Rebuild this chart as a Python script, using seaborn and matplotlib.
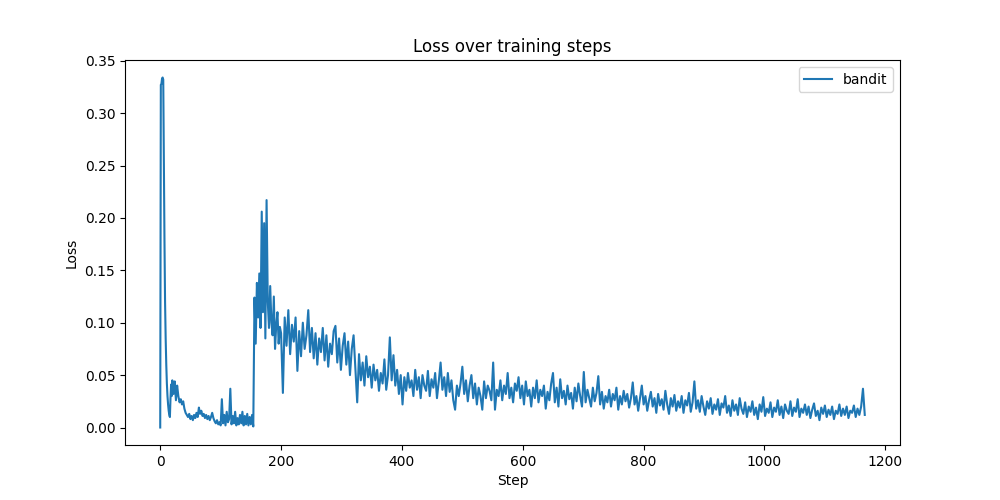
import numpy as np
import pandas as pd
import matplotlib
matplotlib.use("Agg")
import matplotlib.pyplot as plt
import seaborn as sns

# Loss values.
# warm-up spike: steps 0..20, every step
steps_warmup = np.arange(0, 21)
loss_warmup = [
    0.000, 0.327, 0.328, 0.333, 0.334, 0.332, 0.250, 0.180, 0.120, 0.085,
    0.060, 0.042, 0.030, 0.022, 0.016, 0.012, 0.010, 0.028, 0.041, 0.030,
    0.045,
]

# early phase: steps 22..198, every 2 steps
steps_early = np.arange(22, 199, 2)
loss_early = [
    0.032, 0.044, 0.026, 0.040, 0.030, 0.024, 0.027, 0.022, 0.025, 0.018,
    0.014, 0.012, 0.010, 0.013, 0.008, 0.011, 0.007, 0.012, 0.009, 0.014,
    0.010, 0.019, 0.013, 0.016, 0.011, 0.013, 0.009, 0.012, 0.008, 0.011,
    0.007, 0.010, 0.014, 0.009, 0.006, 0.004, 0.007, 0.003, 0.005, 0.002,
    0.027, 0.004, 0.012, 0.002, 0.015, 0.005, 0.008, 0.037, 0.003, 0.011,
    0.004, 0.015, 0.002, 0.009, 0.003, 0.012, 0.004, 0.015, 0.002, 0.011,
    0.003, 0.013, 0.002, 0.010, 0.003, 0.012, 0.001,
    0.124, 0.080, 0.138, 0.105, 0.147, 0.095, 0.206, 0.110, 0.195, 0.085,
    0.217, 0.120, 0.095, 0.135, 0.100, 0.088, 0.125, 0.075, 0.098, 0.110,
    0.080, 0.096,
]

# main phase: steps 200..1166, every 3 steps
steps_main = np.arange(200, 1167, 3)
loss_main = [
    0.090, 0.033, 0.105, 0.078, 0.112, 0.070, 0.098, 0.082, 0.105, 0.054,
    0.092, 0.068, 0.100, 0.075, 0.088, 0.112, 0.072, 0.095, 0.066, 0.090,
    0.060, 0.085, 0.072, 0.095, 0.064, 0.088, 0.058, 0.080, 0.070, 0.092,
    0.097, 0.062, 0.085, 0.055, 0.078, 0.090, 0.060, 0.082, 0.050, 0.075,
    0.088, 0.055, 0.024, 0.070, 0.045, 0.062, 0.040, 0.068, 0.048, 0.058,
    0.038, 0.060, 0.045, 0.055, 0.035, 0.052, 0.042, 0.065, 0.036, 0.050,
    0.086, 0.045, 0.069, 0.040, 0.055, 0.032, 0.050, 0.022, 0.048, 0.035,
    0.052, 0.038, 0.045, 0.030, 0.055, 0.036, 0.048, 0.028, 0.050, 0.040,
    0.035, 0.054, 0.030, 0.046, 0.038, 0.052, 0.028, 0.044, 0.062, 0.036,
    0.048, 0.030, 0.052, 0.034, 0.045, 0.026, 0.017, 0.040, 0.030, 0.042,
    0.058, 0.032, 0.045, 0.025, 0.040, 0.050, 0.028, 0.042, 0.022, 0.038,
    0.030, 0.017, 0.044, 0.028, 0.040, 0.035, 0.026, 0.062, 0.017, 0.036,
    0.030, 0.045, 0.026, 0.040, 0.032, 0.052, 0.028, 0.038, 0.024, 0.042,
    0.035, 0.048, 0.028, 0.040, 0.022, 0.044, 0.030, 0.036, 0.020, 0.038,
    0.028, 0.045, 0.024, 0.036, 0.030, 0.040, 0.018, 0.034, 0.026, 0.042,
    0.052, 0.024, 0.038, 0.020, 0.046, 0.028, 0.035, 0.022, 0.040, 0.027,
    0.033, 0.018, 0.038, 0.025, 0.042, 0.030, 0.020, 0.053, 0.024, 0.036,
    0.028, 0.020, 0.038, 0.025, 0.033, 0.049, 0.022, 0.034, 0.018, 0.030,
    0.024, 0.036, 0.020, 0.032, 0.026, 0.038, 0.017, 0.030, 0.022, 0.035,
    0.025, 0.032, 0.019, 0.028, 0.043, 0.022, 0.030, 0.016, 0.028, 0.040,
    0.022, 0.030, 0.016, 0.026, 0.034, 0.020, 0.028, 0.014, 0.032, 0.021,
    0.027, 0.017, 0.035, 0.022, 0.013, 0.028, 0.020, 0.031, 0.016, 0.025,
    0.019, 0.030, 0.014, 0.026, 0.021, 0.033, 0.015, 0.024, 0.044, 0.018,
    0.026, 0.015, 0.030, 0.020, 0.012, 0.025, 0.018, 0.028, 0.013, 0.022,
    0.017, 0.027, 0.012, 0.023, 0.019, 0.030, 0.014, 0.021, 0.011, 0.026,
    0.016, 0.022, 0.012, 0.028, 0.018, 0.013, 0.024, 0.010, 0.020, 0.015,
    0.025, 0.012, 0.019, 0.008, 0.022, 0.015, 0.029, 0.011, 0.018, 0.014,
    0.024, 0.010, 0.019, 0.015, 0.026, 0.012, 0.020, 0.009, 0.022, 0.016,
    0.013, 0.025, 0.011, 0.019, 0.015, 0.027, 0.010, 0.018, 0.014, 0.022,
    0.012, 0.020, 0.009, 0.017, 0.023, 0.011, 0.016, 0.007, 0.019, 0.013,
    0.021, 0.010, 0.017, 0.012, 0.020, 0.008, 0.016, 0.013, 0.022, 0.011,
    0.018, 0.012, 0.020, 0.009, 0.016, 0.014, 0.021, 0.010, 0.018, 0.012,
    0.020, 0.037, 0.012,
]

df = pd.DataFrame({
    'Step': np.concatenate([steps_warmup, steps_early, steps_main]),
    'Loss': loss_warmup + loss_early + loss_main,
})

plt.figure(figsize=(10, 5), dpi=100)
sns.lineplot(data=df, x='Step', y='Loss', label='bandit', color='#1f77b4')
plt.title('Loss over training steps')
plt.xlabel('Step')
plt.ylabel('Loss')
plt.legend(loc='upper right')
plt.savefig('out.png', dpi=100)
